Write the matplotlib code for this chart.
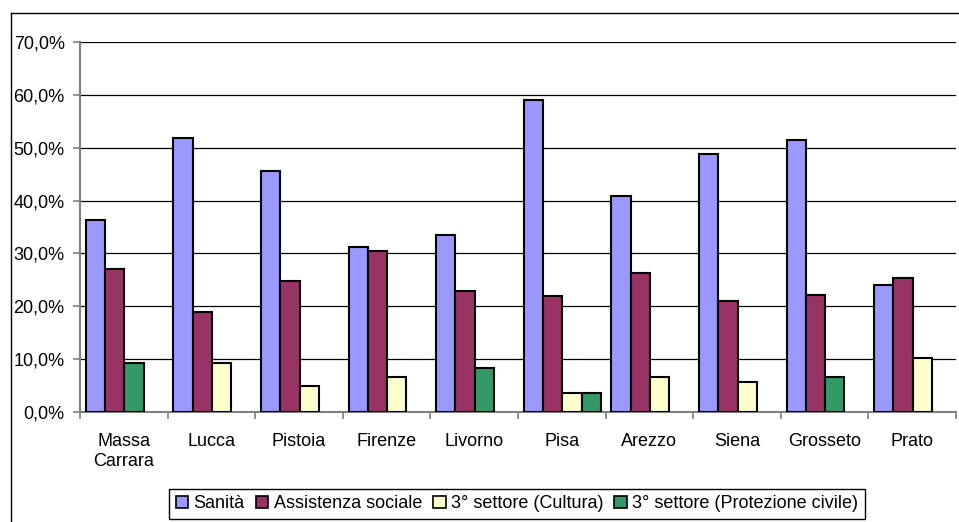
import numpy as np
import matplotlib.pyplot as plt
from matplotlib.lines import Line2D
from matplotlib.patches import Patch
from matplotlib.ticker import FuncFormatter

province = ["Massa\nCarrara", "Lucca", "Pistoia", "Firenze", "Livorno",
            "Pisa", "Arezzo", "Siena", "Grosseto", "Prato"]
sanita = [36.4, 51.9, 45.6, 31.3, 33.5, 59.0, 40.9, 48.8, 51.4, 24.0]
assistenza = [27.0, 18.8, 24.7, 30.4, 22.8, 22.0, 26.2, 20.9, 22.2, 25.4]
cultura = [0.0, 9.2, 4.8, 6.6, 0.0, 3.5, 6.5, 5.6, 0.0, 10.1]
protezione = [9.2, 0.0, 0.0, 0.0, 8.2, 3.5, 0.0, 0.0, 6.5, 0.0]

series_names = ["Sanità", "Assistenza sociale", "3° settore (Cultura)",
                "3° settore (Protezione civile)"]
series_vals = [sanita, assistenza, cultura, protezione]
series_clr = ["#9999FF", "#993366", "#FFFFCC", "#339966"]

plt.rcParams['font.family'] = ['Liberation Sans', 'DejaVu Sans']

fig = plt.figure(figsize=(9.59, 5.22), dpi=100)
ax = fig.add_axes([80 / 959, 1 - 411.7 / 522, 876 / 959, 369.4 / 522])

slot = 0.22
offset = 0.066
for i in range(len(province)):
    k = 0
    for vals, clr in zip(series_vals, series_clr):
        if vals[i] <= 0:
            continue
        x = i - 0.5 + offset + slot * k + slot / 2
        ax.bar(x, vals[i] / 100, width=slot, color=clr, edgecolor="black",
               linewidth=1.5, zorder=3)
        k += 1

ax.set_xlim(-0.5, len(province) - 0.5)
ax.set_ylim(0, 0.70)
ax.set_yticks(np.arange(0, 0.71, 0.1))
ax.yaxis.set_major_formatter(FuncFormatter(lambda v, p: f"{v * 100:.1f}%".replace(".", ",")))
ax.yaxis.grid(True, color="black", linewidth=0.9, zorder=0)
ax.set_axisbelow(True)

ax.set_xticks(np.arange(-0.5, len(province), 1.0))
ax.set_xticklabels([])
ax.set_xticks(np.arange(len(province)), minor=True)
ax.set_xticklabels(province, minor=True, fontsize=13, linespacing=1.25)
ax.tick_params(axis="x", which="minor", length=0, pad=15)
ax.tick_params(axis="x", which="major", length=5, color="#808080", width=1.2)
ax.tick_params(axis="y", length=5, color="#808080", width=1.2, labelsize=13, pad=6)

for s in ["top", "right"]:
    ax.spines[s].set_visible(False)
for s in ["left", "bottom"]:
    ax.spines[s].set_color("#808080")
    ax.spines[s].set_linewidth(1.5)

# cornice esterna del grafico
fig.add_artist(Line2D([11 / 959, 11 / 959], [0, 1 - 13 / 522], color="black",
                      linewidth=1, transform=fig.transFigure))
fig.add_artist(Line2D([11 / 959, 1], [1 - 13 / 522, 1 - 13 / 522], color="black",
                      linewidth=1, transform=fig.transFigure))

handles = [Patch(facecolor=c, edgecolor="black", linewidth=1.2) for c in series_clr]
leg = fig.legend(handles, series_names, loc="upper center",
                 bbox_to_anchor=(517 / 959, 1 - 489 / 522), ncol=4,
                 fontsize=13, handlelength=0.7, handleheight=0.7,
                 handletextpad=0.3, columnspacing=0.6, borderpad=0.35,
                 borderaxespad=0, fancybox=False, edgecolor="black",
                 framealpha=1)
leg.get_frame().set_linewidth(1.0)

fig.savefig("out.png", dpi=100)
